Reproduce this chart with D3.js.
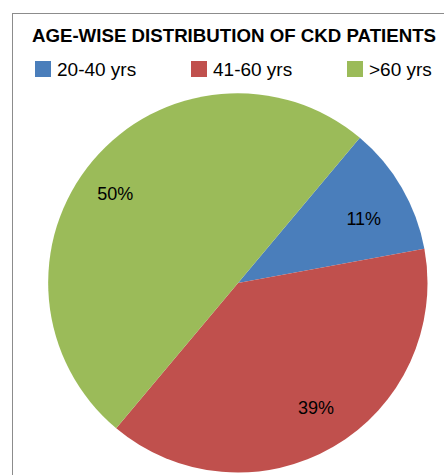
<!DOCTYPE html>
<html><head><meta charset="utf-8">
<script src="https://cdn.jsdelivr.net/npm/d3@7"></script>
<style>body{margin:0;background:#fff}svg{display:block}</style>
</head><body>
<svg id="c" width="444" height="475"></svg>
<script>
const categories = ["20-40 yrs", "41-60 yrs", ">60 yrs"];
const values = [11, 39, 50];
const labels = ["11%", "39%", "50%"];
const colors = ["#4a7ebb", "#c0504d", "#9bbb59"];
const title = "AGE-WISE DISTRIBUTION OF CKD PATIENTS";

const font = "Liberation Sans, Arial, sans-serif";
const svg = d3.select("#c");
svg.append("rect").attr("x", 12.5).attr("y", 13.5).attr("width", 460).attr("height", 480)
  .attr("fill", "#fff").attr("stroke", "#8c8c8c").attr("stroke-width", 1);

svg.append("text").attr("x", 234).attr("y", 42).attr("text-anchor", "middle")
  .attr("font-family", font).attr("font-weight", "bold")
  .attr("font-size", 18.7).attr("fill", "#000").text(title);

const legX = [35, 191, 347];
const leg = svg.append("g");
categories.forEach((c, i) => {
  leg.append("rect").attr("x", legX[i]).attr("y", 61).attr("width", 16).attr("height", 16).attr("fill", colors[i]);
  leg.append("text").attr("x", legX[i] + 22).attr("y", 76)
    .attr("font-family", font).attr("font-size", 19)
    .attr("fill", "#000").text(c);
});

const cx = 238, cy = 283, r = 189.5;
const start = 40 * Math.PI / 180;
const pie = d3.pie().sort(null).startAngle(start).endAngle(start + 2 * Math.PI);
const arcs = pie(values);
const arc = d3.arc().innerRadius(0).outerRadius(r);
// label placement (best-fit style): angular shift in degrees and radius per slice
const labelShiftDeg = [2.9, -1.9, -4];
const labelRadius = [141.5, 147, 151.6];
const g = svg.append("g").attr("transform", `translate(${cx},${cy})`);
g.selectAll("path").data(arcs).join("path").attr("d", arc).attr("fill", (d, i) => colors[i]);
g.selectAll("text").data(arcs).join("text")
  .attr("transform", (d, i) => {
    const a = (d.startAngle + d.endAngle) / 2 + labelShiftDeg[i] * Math.PI / 180;
    const rr = labelRadius[i];
    return `translate(${rr * Math.sin(a)},${-rr * Math.cos(a)})`;
  })
  .attr("text-anchor", "middle").attr("dy", "0.36em")
  .attr("font-family", font).attr("font-size", 18)
  .attr("fill", "#000").text((d, i) => labels[i]);
</script>
</body></html>
